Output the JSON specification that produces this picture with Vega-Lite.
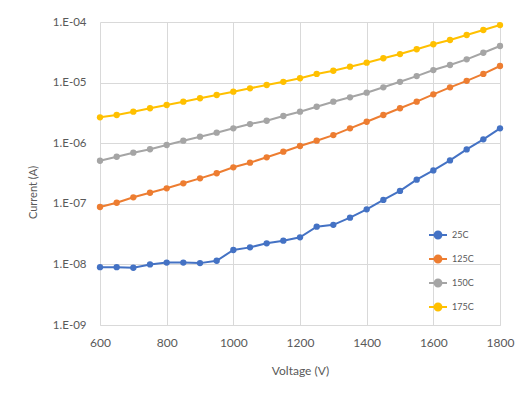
{
  "$schema": "https://vega.github.io/schema/vega-lite/v6.json",
  "autosize": "none",
  "width": 400,
  "height": 303,
  "padding": {"left": 100, "top": 22, "right": 20, "bottom": 68},
  "background": "white",
  "config": {
    "font": "Lato",
    "view": {"stroke": null},
    "axis": {"labelColor": "#595959", "titleColor": "#595959", "gridColor": "#D9D9D9", "gridWidth": 1, "ticks": false, "titleFontWeight": "normal", "labelFont": "Lato", "titleFont": "Lato"}
  },
  "data": {"values": [
    {"V": 600, "T": "25C", "I": 9.0e-9},
    {"V": 650, "T": "25C", "I": 9.0e-9},
    {"V": 700, "T": "25C", "I": 8.8e-9},
    {"V": 750, "T": "25C", "I": 1.0e-8},
    {"V": 800, "T": "25C", "I": 1.07e-8},
    {"V": 850, "T": "25C", "I": 1.07e-8},
    {"V": 900, "T": "25C", "I": 1.05e-8},
    {"V": 950, "T": "25C", "I": 1.15e-8},
    {"V": 1000, "T": "25C", "I": 1.73e-8},
    {"V": 1050, "T": "25C", "I": 1.91e-8},
    {"V": 1100, "T": "25C", "I": 2.23e-8},
    {"V": 1150, "T": "25C", "I": 2.46e-8},
    {"V": 1200, "T": "25C", "I": 2.8e-8},
    {"V": 1250, "T": "25C", "I": 4.2e-8},
    {"V": 1300, "T": "25C", "I": 4.5e-8},
    {"V": 1350, "T": "25C", "I": 5.9e-8},
    {"V": 1400, "T": "25C", "I": 8.1e-8},
    {"V": 1450, "T": "25C", "I": 1.16e-7},
    {"V": 1500, "T": "25C", "I": 1.63e-7},
    {"V": 1550, "T": "25C", "I": 2.5e-7},
    {"V": 1600, "T": "25C", "I": 3.55e-7},
    {"V": 1650, "T": "25C", "I": 5.2e-7},
    {"V": 1700, "T": "25C", "I": 7.9e-7},
    {"V": 1750, "T": "25C", "I": 1.16e-6},
    {"V": 1800, "T": "25C", "I": 1.76e-6},
    {"V": 600, "T": "125C", "I": 8.85e-8},
    {"V": 650, "T": "125C", "I": 1.04e-7},
    {"V": 700, "T": "125C", "I": 1.28e-7},
    {"V": 750, "T": "125C", "I": 1.52e-7},
    {"V": 800, "T": "125C", "I": 1.8e-7},
    {"V": 850, "T": "125C", "I": 2.18e-7},
    {"V": 900, "T": "125C", "I": 2.63e-7},
    {"V": 950, "T": "125C", "I": 3.19e-7},
    {"V": 1000, "T": "125C", "I": 4.0e-7},
    {"V": 1050, "T": "125C", "I": 4.77e-7},
    {"V": 1100, "T": "125C", "I": 5.85e-7},
    {"V": 1150, "T": "125C", "I": 7.24e-7},
    {"V": 1200, "T": "125C", "I": 9.0e-7},
    {"V": 1250, "T": "125C", "I": 1.1e-6},
    {"V": 1300, "T": "125C", "I": 1.36e-6},
    {"V": 1350, "T": "125C", "I": 1.76e-6},
    {"V": 1400, "T": "125C", "I": 2.26e-6},
    {"V": 1450, "T": "125C", "I": 2.92e-6},
    {"V": 1500, "T": "125C", "I": 3.77e-6},
    {"V": 1550, "T": "125C", "I": 4.84e-6},
    {"V": 1600, "T": "125C", "I": 6.41e-6},
    {"V": 1650, "T": "125C", "I": 8.36e-6},
    {"V": 1700, "T": "125C", "I": 1.07e-5},
    {"V": 1750, "T": "125C", "I": 1.39e-5},
    {"V": 1800, "T": "125C", "I": 1.88e-5},
    {"V": 600, "T": "150C", "I": 5.14e-7},
    {"V": 650, "T": "150C", "I": 5.98e-7},
    {"V": 700, "T": "150C", "I": 6.97e-7},
    {"V": 750, "T": "150C", "I": 7.94e-7},
    {"V": 800, "T": "150C", "I": 9.34e-7},
    {"V": 850, "T": "150C", "I": 1.1e-6},
    {"V": 900, "T": "150C", "I": 1.28e-6},
    {"V": 950, "T": "150C", "I": 1.49e-6},
    {"V": 1000, "T": "150C", "I": 1.76e-6},
    {"V": 1050, "T": "150C", "I": 2.07e-6},
    {"V": 1100, "T": "150C", "I": 2.35e-6},
    {"V": 1150, "T": "150C", "I": 2.81e-6},
    {"V": 1200, "T": "150C", "I": 3.31e-6},
    {"V": 1250, "T": "150C", "I": 4.0e-6},
    {"V": 1300, "T": "150C", "I": 4.84e-6},
    {"V": 1350, "T": "150C", "I": 5.72e-6},
    {"V": 1400, "T": "150C", "I": 6.81e-6},
    {"V": 1450, "T": "150C", "I": 8.36e-6},
    {"V": 1500, "T": "150C", "I": 1.03e-5},
    {"V": 1550, "T": "150C", "I": 1.28e-5},
    {"V": 1600, "T": "150C", "I": 1.61e-5},
    {"V": 1650, "T": "150C", "I": 1.95e-5},
    {"V": 1700, "T": "150C", "I": 2.42e-5},
    {"V": 1750, "T": "150C", "I": 3.11e-5},
    {"V": 1800, "T": "150C", "I": 4.02e-5},
    {"V": 600, "T": "175C", "I": 2.67e-6},
    {"V": 650, "T": "175C", "I": 2.92e-6},
    {"V": 700, "T": "175C", "I": 3.31e-6},
    {"V": 750, "T": "175C", "I": 3.77e-6},
    {"V": 800, "T": "175C", "I": 4.27e-6},
    {"V": 850, "T": "175C", "I": 4.84e-6},
    {"V": 900, "T": "175C", "I": 5.51e-6},
    {"V": 950, "T": "175C", "I": 6.24e-6},
    {"V": 1000, "T": "175C", "I": 7.08e-6},
    {"V": 1050, "T": "175C", "I": 8.05e-6},
    {"V": 1100, "T": "175C", "I": 9.12e-6},
    {"V": 1150, "T": "175C", "I": 1.03e-5},
    {"V": 1200, "T": "175C", "I": 1.18e-5},
    {"V": 1250, "T": "175C", "I": 1.39e-5},
    {"V": 1300, "T": "175C", "I": 1.57e-5},
    {"V": 1350, "T": "175C", "I": 1.83e-5},
    {"V": 1400, "T": "175C", "I": 2.13e-5},
    {"V": 1450, "T": "175C", "I": 2.52e-5},
    {"V": 1500, "T": "175C", "I": 2.96e-5},
    {"V": 1550, "T": "175C", "I": 3.55e-5},
    {"V": 1600, "T": "175C", "I": 4.29e-5},
    {"V": 1650, "T": "175C", "I": 5.05e-5},
    {"V": 1700, "T": "175C", "I": 6.1e-5},
    {"V": 1750, "T": "175C", "I": 7.38e-5},
    {"V": 1800, "T": "175C", "I": 8.9e-5}
  ]},
  "mark": {"type": "line", "strokeWidth": 2, "point": {"filled": true, "size": 40, "opacity": 1}},
  "encoding": {
    "x": {
      "field": "V", "type": "quantitative", "title": "Voltage (V)",
      "scale": {"domain": [600, 1800], "nice": false, "zero": false},
      "axis": {"values": [600, 800, 1000, 1200, 1400, 1600, 1800], "format": "d", "labelFontSize": 12, "labelPadding": 12, "titleFontSize": 12, "titlePadding": 17, "domainColor": "#D9D9D9", "labelFlush": false}
    },
    "y": {
      "field": "I", "type": "quantitative", "title": "Current (A)",
      "scale": {"type": "log", "domain": [1e-9, 1e-4], "nice": false},
      "axis": {"values": [1e-9, 1e-8, 1e-7, 1e-6, 1e-5, 1e-4], "labelExpr": "'1.E-0' + round(-log(datum.value)/LN10)", "labelFontSize": 11.5, "labelPadding": 14, "titleFontSize": 11, "titlePadding": 14, "titleY": 170, "domain": false}
    },
    "color": {
      "field": "T", "type": "nominal",
      "scale": {"domain": ["25C", "125C", "150C", "175C"], "range": ["#4472C4", "#ED7D31", "#A5A5A5", "#FFC000"]},
      "legend": {
        "title": null, "orient": "none", "legendX": 328, "legendY": 203,
        "symbolType": "M-1,0L1,0M-0.38,0A0.38,0.38,0,1,0,0.38,0A0.38,0.38,0,1,0,-0.38,0Z",
        "symbolSize": 324, "rowPadding": 6, "labelFontSize": 9, "labelColor": "#595959", "labelOffset": 4,
        "encode": {"symbols": {"update": {"stroke": {"scale": "color", "field": "value"}, "fill": {"scale": "color", "field": "value"}, "strokeWidth": {"value": 2}, "opacity": {"value": 1}}}}
      }
    }
  }
}
